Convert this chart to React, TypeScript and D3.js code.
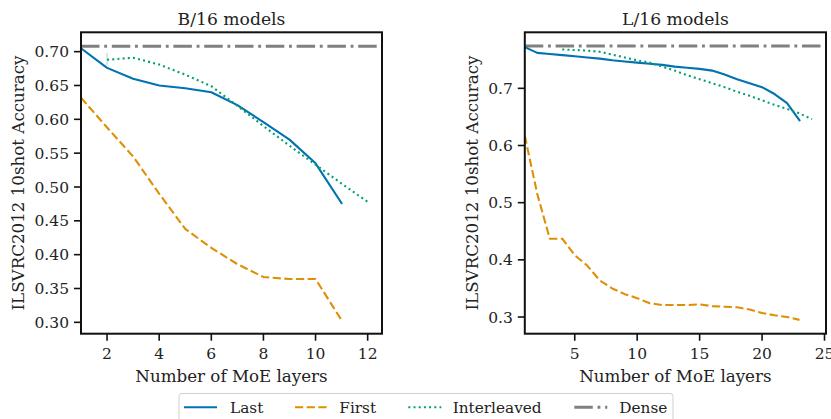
import React from "react";
import * as d3 from "d3";

// ---------- data ----------
const b16Layers = [1, 2, 3, 4, 5, 6, 7, 8, 9, 10, 11, 12];
const b16Last = [0.705, 0.676, 0.66, 0.65, 0.646, 0.64, 0.621, 0.596, 0.57, 0.535, 0.476];
const b16First = [0.632, 0.588, 0.545, 0.49, 0.438, 0.41, 0.386, 0.367, 0.364, 0.364, 0.303];
const b16InterleavedX = [2, 3, 4, 5, 6, 7, 8, 9, 10, 11, 12];
const b16Interleaved = [0.688, 0.691, 0.681, 0.666, 0.649, 0.62, 0.59, 0.561, 0.533, 0.505, 0.478];
const b16InterleavedBand = { x: 2, lo: 0.68, hi: 0.698 };
const b16Dense = 0.708;

const l16Layers = [1, 2, 3, 4, 5, 6, 7, 8, 9, 10, 11, 12, 13, 14, 15, 16, 17, 18, 19, 20, 21, 22, 23];
const l16Last = [0.772, 0.762, 0.76, 0.758, 0.756, 0.754, 0.752, 0.749, 0.747, 0.745, 0.743, 0.741, 0.738, 0.736, 0.734, 0.731, 0.724, 0.716, 0.709, 0.702, 0.69, 0.674, 0.644];
const l16First = [0.617, 0.515, 0.437, 0.437, 0.408, 0.39, 0.364, 0.35, 0.34, 0.333, 0.324, 0.321, 0.321, 0.321, 0.322, 0.319, 0.318, 0.317, 0.313, 0.307, 0.303, 0.3, 0.295];
const l16InterleavedX = [4, 5, 6, 7, 8, 9, 10, 11, 12, 13, 14, 15, 16, 17, 18, 19, 20, 21, 22, 23, 24];
const l16Interleaved = [0.768, 0.767, 0.766, 0.764, 0.759, 0.754, 0.749, 0.745, 0.738, 0.731, 0.723, 0.716, 0.709, 0.702, 0.694, 0.687, 0.679, 0.671, 0.664, 0.656, 0.646];
const l16Dense = 0.774;

const b16XTicks = [2, 4, 6, 8, 10, 12];
const b16YTicks = [0.3, 0.35, 0.4, 0.45, 0.5, 0.55, 0.6, 0.65, 0.7];
const l16XTicks = [5, 10, 15, 20, 25];
const l16YTicks = [0.3, 0.4, 0.5, 0.6, 0.7];

const seriesNames = ["Last", "First", "Interleaved", "Dense"];

// ---------- style ----------
const C_LAST = "#0173b2";
const C_FIRST = "#de8f05";
const C_INTER = "#029e73";
const C_DENSE = "#808080";
const FONT = "DejaVu Serif";
const DASH_FIRST = "8.2,3.5";
const DASH_INTER = "2,3.2";
const DASH_DENSE = "18.5,4.7,2.9,4.7";
const TICK_FS = 15.5;
const LABEL_FS = 16.7;
const TITLE_FS = 17.2;

const TOP = 32.3;
const BOTTOM = 333.7;

type PanelProps = {
  id: string;
  title: string;
  left: number;
  right: number;
  xDomain: [number, number];
  yDomain: [number, number];
  xTicks: number[];
  yTicks: number[];
  yFmt: string;
  layers: number[];
  last: number[];
  first: number[];
  interX: number[];
  inter: number[];
  dense: number;
  band?: { x: number; lo: number; hi: number };
  yLabelX: number;
};

function Panel(p: PanelProps) {
  const x = d3.scaleLinear().domain(p.xDomain).range([p.left, p.right]);
  const y = d3.scaleLinear().domain(p.yDomain).range([BOTTOM, TOP]);
  const line = d3
    .line<[number, number]>()
    .x((d) => x(d[0]))
    .y((d) => y(d[1]));
  const lastPts = p.last.map((v, i) => [p.layers[i], v] as [number, number]);
  const firstPts = p.first.map((v, i) => [p.layers[i], v] as [number, number]);
  const interPts = p.inter.map((v, i) => [p.interX[i], v] as [number, number]);
  const fmt = d3.format(p.yFmt);
  const cx = (p.left + p.right) / 2;
  return (
    <g>
      <defs>
        <clipPath id={p.id}>
          <rect x={p.left} y={TOP} width={p.right - p.left} height={BOTTOM - TOP} />
        </clipPath>
      </defs>
      <g clipPath={`url(#${p.id})`}>
        <line
          x1={p.left}
          x2={p.right}
          y1={y(p.dense)}
          y2={y(p.dense)}
          stroke={C_DENSE}
          strokeWidth={2.9}
          strokeDasharray={DASH_DENSE}
        />
        {p.band && (
          <line
            x1={x(p.band.x)}
            x2={x(p.band.x)}
            y1={y(p.band.lo)}
            y2={y(p.band.hi)}
            stroke={C_INTER}
            strokeOpacity={0.2}
            strokeWidth={2}
          />
        )}
        <path d={line(firstPts) || ""} fill="none" stroke={C_FIRST} strokeWidth={2.1} strokeDasharray={DASH_FIRST} strokeLinejoin="round" />
        <path d={line(lastPts) || ""} fill="none" stroke={C_LAST} strokeWidth={2.1} strokeLinejoin="round" strokeLinecap="round" />
        <path d={line(interPts) || ""} fill="none" stroke={C_INTER} strokeWidth={2.1} strokeDasharray={DASH_INTER} strokeLinejoin="round" />
      </g>
      {/* frame */}
      <rect x={p.left} y={TOP} width={p.right - p.left} height={BOTTOM - TOP} fill="none" stroke="#111" strokeWidth={2} />
      {/* x ticks */}
      {p.xTicks.map((t) => (
        <g key={"x" + t}>
          <line x1={x(t)} x2={x(t)} y1={BOTTOM} y2={BOTTOM + 7} stroke="#111" strokeWidth={1.6} />
          <text x={x(t)} y={359.3} textAnchor="middle" fontFamily={FONT} fontSize={TICK_FS} fill="#222">
            {t}
          </text>
        </g>
      ))}
      {/* y ticks */}
      {p.yTicks.map((t) => (
        <g key={"y" + t}>
          <line x1={p.left - 7} x2={p.left} y1={y(t)} y2={y(t)} stroke="#111" strokeWidth={1.6} />
          <text x={p.left - 12} y={y(t)} dy="0.36em" textAnchor="end" fontFamily={FONT} fontSize={TICK_FS} fill="#222">
            {fmt(t)}
          </text>
        </g>
      ))}
      <text x={cx} y={25} textAnchor="middle" fontFamily={FONT} fontSize={TITLE_FS} fill="#222">
        {p.title}
      </text>
      <text x={cx} y={381.5} textAnchor="middle" fontFamily={FONT} fontSize={LABEL_FS} fill="#222">
        Number of MoE layers
      </text>
      <text
        transform={`translate(${p.yLabelX},${(TOP + BOTTOM) / 2}) rotate(-90)`}
        textAnchor="middle"
        fontFamily={FONT}
        fontSize={LABEL_FS}
        fill="#222"
      >
        ILSVRC2012 10shot Accuracy
      </text>
    </g>
  );
}

function Legend() {
  const items = [
    { name: seriesNames[0], color: C_LAST, dash: undefined as string | undefined, w: 2.1, x0: 184, tx: 230 },
    { name: seriesNames[1], color: C_FIRST, dash: DASH_FIRST, w: 2.1, x0: 295, tx: 339.3 },
    { name: seriesNames[2], color: C_INTER, dash: DASH_INTER, w: 2.1, x0: 408.3, tx: 452.7 },
    { name: seriesNames[3], color: C_DENSE, dash: DASH_DENSE, w: 2.9, x0: 574.3, tx: 619.3 },
  ];
  return (
    <g>
      <rect x={179} y={393.5} width={494} height={32} rx={3} fill="#fff" stroke="#d0d0d0" strokeWidth={1} />
      {items.map((it) => (
        <g key={it.name}>
          <line x1={it.x0} x2={it.x0 + 33} y1={407.3} y2={407.3} stroke={it.color} strokeWidth={it.w} strokeDasharray={it.dash} />
          <text x={it.tx} y={412.5} fontFamily={FONT} fontSize={15.3} fill="#222">
            {it.name}
          </text>
        </g>
      ))}
    </g>
  );
}

export default function App() {
  return (
    <svg
      width={831}
      height={419}
      viewBox="0 0 831 419"
      style={{ position: "absolute", left: 0, top: 0, display: "block", background: "#fff" }}
    >
      <rect x={0} y={0} width={831} height={419} fill="#fff" />
      <Panel
        id="clipB16"
        title="B/16 models"
        left={81}
        right={382}
        xDomain={[1, 12.55]}
        yDomain={[0.2832, 0.7286]}
        xTicks={b16XTicks}
        yTicks={b16YTicks}
        yFmt=".2f"
        layers={b16Layers}
        last={b16Last}
        first={b16First}
        interX={b16InterleavedX}
        inter={b16Interleaved}
        dense={b16Dense}
        band={b16InterleavedBand}
        yLabelX={23.5}
      />
      <Panel
        id="clipL16"
        title="L/16 models"
        left={524.8}
        right={826}
        xDomain={[1, 25.12]}
        yDomain={[0.2708, 0.798]}
        xTicks={l16XTicks}
        yTicks={l16YTicks}
        yFmt=".1f"
        layers={l16Layers}
        last={l16Last}
        first={l16First}
        interX={l16InterleavedX}
        inter={l16Interleaved}
        dense={l16Dense}
        yLabelX={477.5}
      />
      <Legend />
    </svg>
  );
}
